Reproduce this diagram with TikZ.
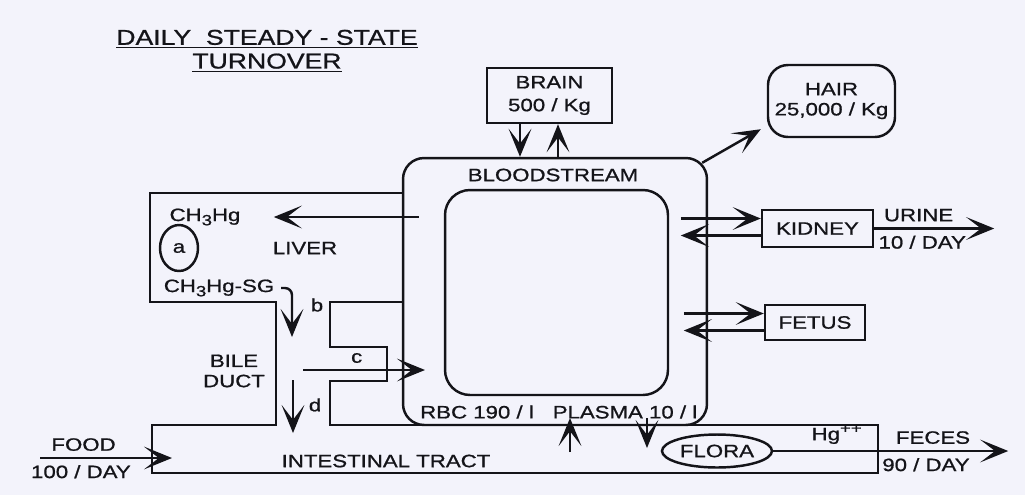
\documentclass[tikz,border=0pt]{standalone}
\usepackage{fontspec}
\setmainfont{Liberation Sans}[FakeStretch=1.24, FakeBold=0.9]
\usetikzlibrary{shapes.geometric, arrows.meta, positioning, calc}
\definecolor{paper}{RGB}{243,243,251}
\definecolor{ink}{RGB}{20,20,25}
\newcommand{\lowidx}[1]{\raisebox{-0.45ex}{\fontsize{8.5}{8.5}\selectfont #1}}
\newcommand{\highidx}[1]{\raisebox{0.75ex}{\fontsize{8.5}{8.5}\selectfont #1}}

\begin{document}
\begin{tikzpicture}[x=0.02cm, y=-0.02cm, line width=1.4pt, color=ink,
    every node/.style={font=\fontsize{10.2}{11.5}\selectfont},
    box/.style={draw, rectangle, inner sep=0pt},
    arr/.style={-{Stealth[length=16pt, width=13pt, inset=8.5pt]}}]
    \fill[paper] (0,0) rectangle (1025,495);

    \node (title) at (267,51) [align=center, font=\fontsize{12.2}{13.5}\selectfont]
        {\underline{DAILY\ \ STEADY - STATE}\\\underline{TURNOVER}};

    % bloodstream
    \node (blood) at (555,291.5) [draw, rounded corners=0.42cm, minimum width=6.08cm, minimum height=5.34cm] {};
    \node (rbc) at (556.5,292.5) [draw, rounded corners=0.5cm, minimum width=4.46cm, minimum height=4.1cm] {};
    \node (bs) at (553,175) {BLOODSTREAM};
    \node (rbclbl) at (477,412) {RBC 190 / l};
    \node (plasma) at (625,412) {PLASMA 10 / l};

    % organs
    \node (brain) at (549.5,95.5) [box, minimum width=2.5cm, minimum height=1.1cm, align=center] {BRAIN\\[1.5pt]500 / Kg};
    \node (hair) at (831.5,101) [box, rounded corners=0.4cm, minimum width=2.54cm, minimum height=1.44cm, align=center] {HAIR\\25,000 / Kg};
    \node (kidney) at (817.5,228.5) [box, minimum width=2.22cm, minimum height=0.74cm] {KIDNEY};
    \node (fetus) at (815,322.5) [box, minimum width=2.0cm, minimum height=0.7cm] {FETUS};
    \node (flora) at (717,451) [draw, ellipse, minimum width=2.2cm, minimum height=0.66cm, inner sep=0pt] {FLORA};

    % liver, bile duct, intestinal tract
    \draw (403,193) -- (150,193) -- (150,302) -- (276,302) -- (276,425) -- (152,425) -- (152,473)
        -- (878,473) -- (878,425) -- (330,425) -- (330,381) -- (387,381) -- (387,347) -- (330,347)
        -- (330,302) -- (403,302);
    \node (ch3hg) at (205,217) {CH\lowidx{3}Hg};
    \node (a) at (179,248) [draw, ellipse, minimum width=0.76cm, minimum height=0.92cm, inner sep=0pt] {a};
    \node (liver) at (305,248) {LIVER};
    \node (sg) at (219,288) {CH\lowidx{3}Hg-SG};
    \node (bile) at (234,371) [align=center] {BILE\\DUCT};
    \node (intestine) at (386,461) {INTESTINAL TRACT};
    \node (blbl) at (317,305) {b};

    \coordinate (lvtail) at ($(blood.west |- ch3hg)+(17,0)$);
    \draw[arr] (lvtail) -- ++(-145,0);
    \coordinate (btip) at (292,337);
    \draw[arr, rounded corners=4pt] (sg.east) -| (btip);
    \coordinate (ctail) at (303,370);
    \draw[arr] (ctail) -- ++(122,0) node[pos=0.44, above] (clbl) {c};
    \coordinate (dtail) at (293,380);
    \draw[arr] (dtail) -- ++(0,53) node[pos=0.47, right=5pt] (dlbl) {d};

    % exchanges with the bloodstream
    \path (brain.south) ++(-29.5,0) coordinate (b1) ++(38,0) coordinate (b2);
    \draw[arr] (b1) -- (b1 |- blood.north);
    \draw[arr] (b2 |- blood.north) -- (b2);
    \draw[arr] ([shift={(-6,6)}]blood.north east) -- ([shift={(-6,-9)}]hair.south west);
    \foreach \org/\a/\b in {kidney/-10/7, fetus/-9/8} {
        \draw[arr] ($(\org.west)+(-80,\a)$) -- ($(\org.west)+(0,\a)$);
        \draw[arr] ($(\org.west)+(0,\b)$) -- ($(\org.west)+(-80,\b)$);
    }
    \coordinate (p1) at (570,452);
    \draw[arr] (p1) -- ++(0,-34);
    \coordinate (p2) at (647,418);
    \draw[arr] (p2) -- ++(0,30);

    % intake and excretion
    \draw[arr] (kidney.east) -- ++(120,0) node[pos=0.37, above] (urine) {URINE}
        node[pos=0.4, below] (urineday) {10 / DAY};
    \coordinate (food) at (40,458);
    \draw[arr] (food) -- ++(132,0) node[pos=0.33, above] (foodlbl) {FOOD}
        node[pos=0.31, below] (foodday) {100 / DAY};
    \draw[arr] (flora.east) -- ++(235,0) node[pos=0.27, above] (hg) {Hg\highidx{++}}
        node[pos=0.68, above] (feces) {FECES} node[pos=0.65, below] (fecesday) {90 / DAY};
\end{tikzpicture}
\end{document}
